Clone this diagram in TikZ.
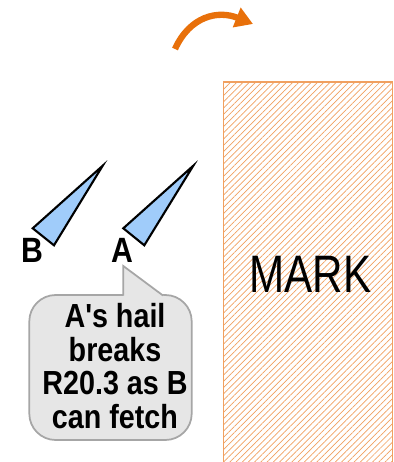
\documentclass[tikz,border=0pt]{standalone}
\usepackage{fontspec}
\setmainfont{Liberation Sans}
\newfontfamily\narrowsans[FakeStretch=0.86]{Liberation Sans}
\newfontfamily\marksans[FakeStretch=0.8]{Liberation Sans}
\usetikzlibrary{patterns.meta,arrows.meta}
\definecolor{boatblue}{HTML}{A0CCFA}
\definecolor{markorange}{HTML}{F0A060}
\definecolor{turnorange}{HTML}{E8700A}
\definecolor{bubblegray}{HTML}{E6E6E6}

\begin{document}
\begin{tikzpicture}[x=0.02cm,y=-0.02cm,
	boat/.style={fill=boatblue, draw=black, line width=1.2pt, line join=miter},
	boatlabel/.style={font=\narrowsans\bfseries\fontsize{20}{22}\selectfont, inner sep=0pt},
	bubble/.style={fill=bubblegray, draw=black!35, line width=1pt},
	bubbletext/.style={font=\narrowsans\bfseries\fontsize{19}{19.1}\selectfont, align=center, inner sep=0pt}]
	\useasboundingbox (0,0) rectangle (394,462);
	% mark
	\draw[markorange, line width=0.8pt, pattern={Lines[angle=45, distance=2.5pt, line width=0.4pt]}, pattern color=markorange]
	(223.5,82) rectangle (392.5,470);
	\node[font=\marksans\fontsize{30}{32}\selectfont] (mark) at (310.5,274) {MARK};
	% boats
	\filldraw[boat] (32.7,228.3) -- (102.7,165.7) -- (54,245.3) -- cycle;
	\filldraw[boat] (123.3,228.3) -- (193.3,165.7) -- (144.3,245.3) -- cycle;
	\node[boatlabel] (b) at (32.2,250) {B};
	\node[boatlabel] (a) at (122.5,250) {A};
	% hail bubble
	\draw[bubble, rounded corners=15] (29.3,295) rectangle (191.7,440);
	\fill[bubblegray] (123.3,266) -- (123.3,297) -- (165,297) -- cycle;
	\draw[bubble, fill=none, line join=miter] (123.3,295.5) -- (123.3,266) -- (163,295.5);
	\node[bubbletext] (hail) at (115,366) {A{\char"27}s hail\\breaks\\R20.3 as B\\can fetch};
	% turn
	\coordinate (t1) at (175,49);
	\coordinate (t2) at (253,24);
	\draw[turnorange, line width=3.6pt, -{Triangle[length=10pt,width=11.5pt]}]
	(t1) .. controls (190,16) and (218,10) .. (t2);
\end{tikzpicture}
\end{document}
